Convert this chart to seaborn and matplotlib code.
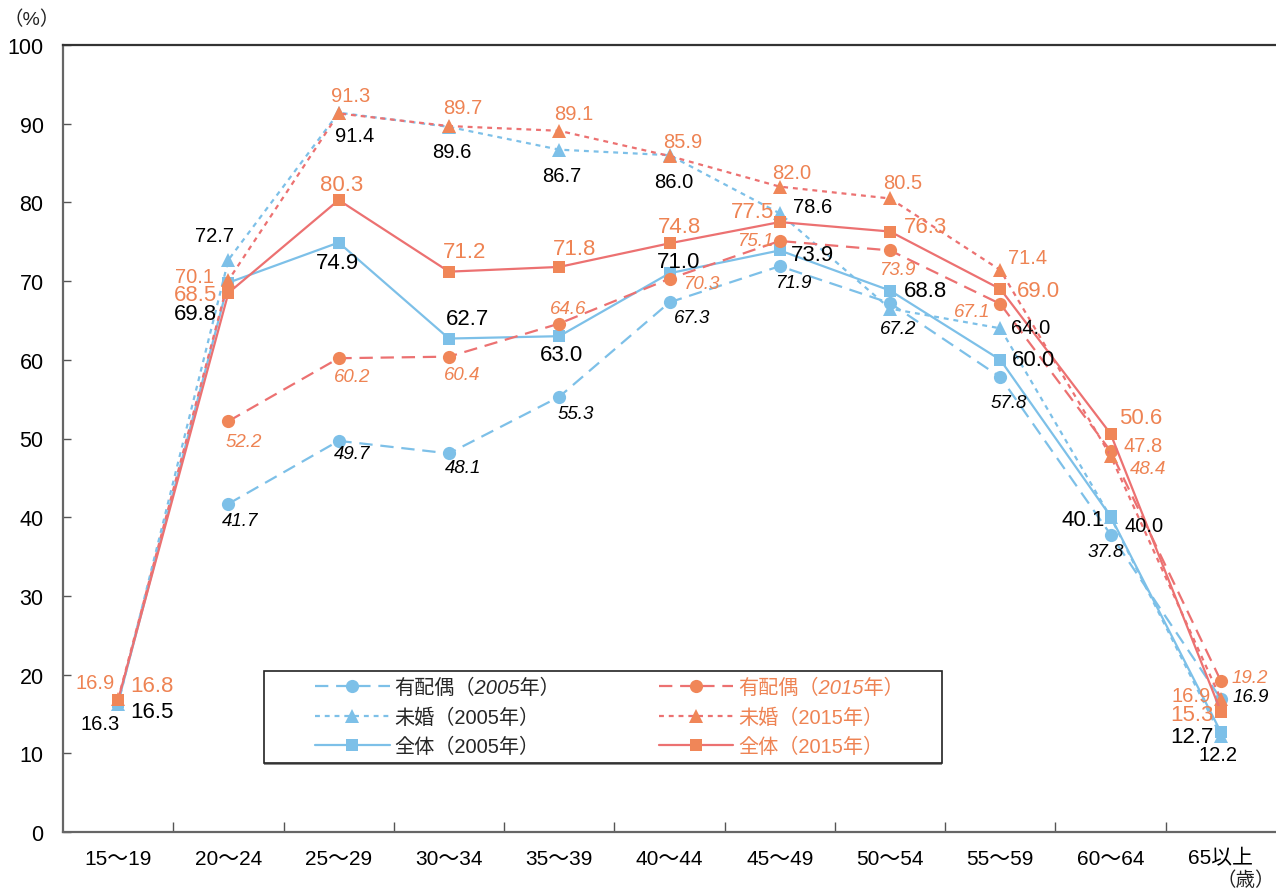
import matplotlib
matplotlib.use("Agg")
import matplotlib.pyplot as plt
import seaborn as sns
import numpy as np
import pandas as pd
from matplotlib.ticker import FixedLocator
from matplotlib.patches import Rectangle

# ---------------- data ----------------
categories = ["15〜19", "20〜24", "25〜29", "30〜34", "35〜39", "40〜44",
              "45〜49", "50〜54", "55〜59", "60〜64", "65以上"]

married_2005 = [np.nan, 41.7, 49.7, 48.1, 55.3, 67.3, 71.9, 67.2, 57.8, 37.8, 16.9]
married_2015 = [np.nan, 52.2, 60.2, 60.4, 64.6, 70.3, 75.1, 73.9, 67.1, 48.4, 19.2]
single_2005 = [16.3, 72.7, 91.4, 89.6, 86.7, 86.0, 78.6, 66.5, 64.0, 40.0, 12.2]
single_2015 = [16.9, 70.1, 91.3, 89.7, 89.1, 85.9, 82.0, 80.5, 71.4, 47.8, 16.9]
total_2005 = [16.5, 69.8, 74.9, 62.7, 63.0, 71.0, 73.9, 68.8, 60.0, 40.1, 12.7]
total_2015 = [16.8, 68.5, 80.3, 71.2, 71.8, 74.8, 77.5, 76.3, 69.0, 50.6, 15.3]

# which points carry no value label
single_2005_unlabeled = [7]

series_names = ["有配偶（2005年）", "未婚（2005年）", "全体（2005年）",
                "有配偶（2015年）", "未婚（2015年）", "全体（2015年）"]

# ---------------- styles / label positions ----------------
BLUE = "#7DC0E8"
ORANGE_LINE = "#EC7171"
ORANGE_MK = "#F08658"
ORANGE_TXT = "#EE8353"

DASHED = (0, (6.0, 3.5))
DOTTED = (0, (2.2, 2.2))

# label centre offsets in pixels (dx right, dy down)
off_married_2005 = [None, (12, 17), (13, 13), (14, 14), (17, 17), (23, 15), (13, 16),
                    (8, 25), (8, 25), (-5, 17), (30, -2)]
off_married_2015 = [None, (15, 20), (13, 18), (13, 18), (9, -15), (32, 5), (-25, 0),
                    (7, 19), (-28, 8), (37, 17), (29, -3)]
off_single_2005 = [(-18, 20), (-14, -24), (16, 23), (3, 25), (3, 26), (4, 26), (33, -7),
                   None, (30, -1), (33, 8), (-3, 19)]
off_single_2015 = [(-23, -16), (-34, -4), (12, -18), (14, -19), (15, -17), (13, -14),
                   (12, -14), (13, -16), (27, -13), (33, -10), (-30, -3)]
off_total_2005 = [(34, 9), (-33, 31), (-1, 20), (19, -20), (2, 18), (9, -12), (33, 4),
                  (35, 0), (33, 0), (-27, 3), (-29, 4)]
off_total_2015 = [(34, -14), (-33, 2), (3, -16), (16, -20), (15, -18), (10, -17),
                  (-27, -11), (35, -5), (38, 2), (30, -16), (-29, 3)]

sns.set_theme(style="white")
plt.rcParams["font.family"] = ["Liberation Sans", "Noto Sans CJK JP", "DejaVu Sans"]

W, H = 1276, 895
AX_L, AX_T, AX_B = 63, 46, 833
fig = plt.figure(figsize=(W / 100, H / 100), dpi=100)
ax = fig.add_axes([AX_L / W, 1 - AX_B / H, 1 - AX_L / W, (AX_B - AX_T) / H])
AW, AH = W - AX_L, AX_B - AX_T

x = np.arange(len(categories))

specs = [
    (married_2005, series_names[0], BLUE, BLUE, DASHED, "o", 9.5, "black", 13.5, True, off_married_2005),
    (single_2005, series_names[1], BLUE, BLUE, DOTTED, "^", 10, "black", 14.5, False, off_single_2005),
    (total_2005, series_names[2], BLUE, BLUE, "-", "s", 8.5, "black", 16, False, off_total_2005),
    (married_2015, series_names[3], ORANGE_LINE, ORANGE_MK, DASHED, "o", 9.5, ORANGE_TXT, 13.5, True, off_married_2015),
    (single_2015, series_names[4], ORANGE_LINE, ORANGE_MK, DOTTED, "^", 10, ORANGE_TXT, 14.5, False, off_single_2015),
    (total_2015, series_names[5], ORANGE_LINE, ORANGE_MK, "-", "s", 8.5, ORANGE_TXT, 16, False, off_total_2015),
]

handles = []
for vals, name, lc, mc, ls, mk, ms, tc, fs, it, offs in specs:
    df = pd.DataFrame({"x": x, "y": vals}).dropna()
    sns.lineplot(data=df, x="x", y="y", ax=ax, color=lc, linewidth=1.6,
                 marker=mk, markersize=ms, markerfacecolor=mc,
                 markeredgewidth=0, label=name, legend=False)
    line = ax.lines[-1]
    line.set_linestyle(ls)
    line.set_markerfacecolor(mc)
    line.set_markeredgecolor(mc)
    handles.append(line)
    for i, v in enumerate(vals):
        if np.isnan(v) or offs[i] is None:
            continue
        if vals is single_2005 and i in single_2005_unlabeled:
            continue
        dx, dy = offs[i]
        ax.annotate(f"{v:.1f}", (i, v), xytext=(dx, -dy), textcoords="offset pixels",
                    ha="center", va="center", fontsize=fs, color=tc,
                    fontstyle="italic" if it else "normal", zorder=5)

ax.set_xlim(-0.5, 10.5)
ax.set_ylim(0, 100)
ax.set_xticks(x)
ax.set_xticklabels(categories, fontsize=15)
ax.xaxis.set_minor_locator(FixedLocator(np.arange(0.5, 10.0, 1.0)))
ax.tick_params(axis="x", which="major", length=0, pad=12, labelcolor="black")
ax.tick_params(axis="x", which="minor", direction="in", length=7, width=1, color="#555555",
               bottom=True)
ax.set_yticks(np.arange(0, 101, 10))
ax.tick_params(axis="y", direction="in", length=6, width=1, color="#555555",
               labelsize=15.5, pad=14, labelcolor="black", left=True)
ax.set_xlabel("")
ax.set_ylabel("")
ax.grid(False)

for side in ["left", "bottom"]:
    ax.spines[side].set_color("#666666")
    ax.spines[side].set_linewidth(1.6)
ax.spines["top"].set_color("#333333")
ax.spines["top"].set_linewidth(1.6)
ax.spines["right"].set_visible(False)

# legend frame (drawn separately so it can be wider than its content)
box_l, box_t, box_r, box_b = 264, 672, 942, 764
shadow = Rectangle(((box_l - AX_L) / AW, (AX_B - box_b - 2) / AH),
                   (box_r - box_l) / AW, (box_b - box_t) / AH,
                   transform=ax.transAxes, facecolor="#8a8a8a", edgecolor="none",
                   zorder=6)
ax.add_patch(shadow)
frame = Rectangle(((box_l - AX_L) / AW, (AX_B - box_b) / AH),
                  (box_r - box_l) / AW, (box_b - box_t) / AH,
                  transform=ax.transAxes, facecolor="white", edgecolor="#222222",
                  linewidth=1.2, zorder=6.5)
ax.add_patch(frame)

leg = ax.legend(handles=handles, labels=series_names, ncol=2,
                loc="upper left",
                bbox_to_anchor=((315 - AX_L) / AW, (AX_B - 679) / AH),
                borderaxespad=0, borderpad=0, frameon=False, fontsize=14.5,
                handlelength=3.7, handletextpad=0.25, labelspacing=0.5,
                columnspacing=4.9)
leg.set_zorder(7)
for t, name in zip(leg.get_texts(), series_names):
    if "2015" in name:
        t.set_color(ORANGE_TXT)
    if name.startswith("有配偶"):
        t.set_fontstyle("italic")

fig.text(32 / W, 1 - 20 / H, "（%）", ha="center", va="center", fontsize=14,
         color="#222222")
fig.text(1246 / W, 1 - 881 / H, "（歳）", ha="center", va="center", fontsize=14,
         color="#222222")

fig.savefig("out.png", dpi=100)
